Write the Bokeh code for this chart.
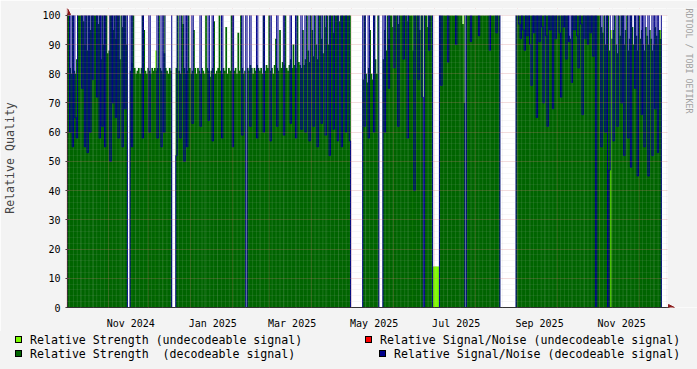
import numpy as np
import pandas as pd
from math import pi
from bokeh.plotting import figure
from bokeh.layouts import column
from bokeh.models import (Range1d, FixedTicker, Label, Arrow, NormalHead, BoxAnnotation,
                          ColumnDataSource, Div)
from bokeh.embed import file_html
from bokeh.resources import INLINE

nan = float("nan")

# ---------------- data: one value per day, starting 2024-10-02 ----------------
first_day = "2024-10-02"

strength_decodeable = [
    # 2024-10-02 .. 2024-11-14
    100,82,80,100,81,80,85,100, 100,100,100,98, 90,100,88,100,95, 100,100,100,100,100,97,
    100,85,100,90,100, 100,87,88,100,100,95, 100,92,100,100,85,100,96,100,100,90,
    nan,nan,
    # 2024-11-17 .. 2024-12-17
    81,84,100,82,80,81,82,80,82,100,95,81,80,82,81,80,82,81,82,81,82,100,82,81,80,87,82,81,80,82,81,
    nan,nan,nan,
    # 2024-12-21 .. 2025-02-10
    82,100,81,80,100,97,82,80,81,100, 82,80,81,95,82,80,82,81,80,82, 81,80,100,82,81,79,81,82,98,80,
    81,82,100,81,80,82,81,96,80,82, 81,100,80,81,82,80,94,81,100,82, 80,81,
    nan,
    # 2025-02-12 .. 2025-03-26
    82,81,83,82,80,82,81,83,82,81, 82,80,100,81,83,82,100,81,82,80, 83,92,82,81,95,82,84,83,100,82,
    81,83,85,82,90,83,82,100,84,83, 82,95,83,
    # 2025-03-27 .. 2025-04-29
    85,100,88,84,100,95,86,100,90,85, 100,100,92,87,100,96,100,90,100,100, 100,94,100,100,100,98,100,100,100,100,
    100,100,100,100,
    nan,nan,nan,nan,nan,nan,nan,nan,nan,
    # 2025-05-09 .. 2025-05-20
    78,100,80,77,82,95,80,78,100,85,80,100,
    nan,nan,nan,
    # 2025-05-24 .. 2025-06-22
    85,95,88,100,92,100,100,96,100,100, 100,97,100,100,100,100,100,100,98,100, 100,100,88,100,100,100,100,95,100,100,
    nan,
    100,100,96,100,100,100,
    nan,nan,nan,nan,nan,
    # 2025-07-05 .. 2025-07-23
    100,100,100,100,100,100,100,100,100,100,100,100,100,100,100,100,100,97,70,
    nan,
    # 2025-07-25 .. 2025-08-18
    100,100,100,100,100,100,100,100,100,100, 100,100,100,100,100,100,100,100,100,100, 100,100,100,100,100,
    nan,nan,nan,nan,nan,nan,nan,nan,nan,nan,nan,nan,
    # 2025-08-31
    100,
    # Sep 2025
    100,100,100,100,100,100,100,100,100,100, 100,100,100,100,100,100,100,100,100,100, 100,100,100,100,100,100,100,100,100,100,
    # Oct 2025
    100,100,100,100,100,100,100,100,93,92, 100,100,100,100,100,100,100,100,100,100, 100,100,100,100,100,100,100,100,100,100, 100,
    # Nov 2025
    100,96,94,100,90,100,100,88,nan,92, 95,100,90,87,100,93,100,100,90,95, 100,88,92,100,96,90,100,93,88,100,
    # Dec 2025
    92,95,90,88,96,93,90,95,92,88,90,96,93,90,95,92,nan,
]

# values above 100 lie off the top of the chart (clipped, as in the original)
snr_decodeable = [
    # 2024-10-02 .. 2024-11-14
    120,60,120,55,120,65,58,120, 120,120,75,120, 55,120,53,120,60, 120,78,120,120,72,120,
    58,120,62,120,55, 120,120,120,50,120,70, 120,65,120,58,120,120,55,120,68,120,
    0,0,
    # 2024-11-17 .. 2024-12-17
    120,55,120,120,120,120,120,120,120,58,120,120,120,120,60,120,120,120,120,120,58,120,120,55,120,60,120,120,120,120,120,
    0,0,0,
    # 2024-12-21 .. 2025-02-10
    52,120,120,58,120,120,50,120,55,120, 120,120,63,120,120,120,120,120,62,120, 120,120,120,120,64,120,120,57,120,120,
    120,120,120,120,58,120,120,120,120,120, 120,120,55,120,120,120,120,120,120,59, 120,120,
    0,
    # 2025-02-12 .. 2025-03-26
    120,120,62,120,120,120,120,58,120,120, 120,120,60,120,120,120,120,57,120,120, 120,120,62,120,120,120,120,59,120,120,
    120,120,63,120,120,120,58,120,120,120, 61,120,120,
    # 2025-03-27 .. 2025-04-29
    60,120,120,57,120,120,62,120,120,55, 120,120,63,120,120,59,120,120,52,120, 120,61,120,120,57,120,120,55,120,120,
    60,120,120,57,
    0,0,0,0,0,0,0,0,0,
    # 2025-05-09 .. 2025-05-20
    120,62,120,120,58,120,120,120,60,120,120,120,
    0,0,0,
    # 2025-05-24 .. 2025-06-22
    120,60,120,120,75,120,120,120,82,120, 120,62,120,120,120,85,120,120,58,120, 120,120,120,40,120,120,78,120,120,72,
    0,
    120,120,120,88,120,120,
    0,0,0,0,0,
    # 2025-07-05 .. 2025-07-23
    120,76,120,120,120,120,84,120,120,120,120,120,90,120,120,120,120,120,120,
    0,
    # 2025-07-25 .. 2025-08-18
    120,120,120,91,120,120,120,120,120,93, 120,120,120,120,120,120,120,88,120,120, 120,120,94,120,120,
    0,0,0,0,0,0,0,0,0,0,0,0,
    # 2025-08-31
    120,
    # Sep 2025
    120,97,92,120,95,88,120,93,120,90, 76,120,94,120,65,120,91,120,96,70, 120,93,62,120,95,120,68,120,92,120,
    # Oct 2025
    120,94,72,120,96,120,85,120,91,120, 77,120,95,120,93,82,120,97,66,120, 92,120,90,120,94,120,86,120,0,120, 120,
    # Nov 2025
    120,55,120,120,60,120,0,47,120,120, 57,120,120,62,120,120,70,120,52,120, 120,58,120,48,120,120,75,120,45,120,
    # Dec 2025
    120,66,120,55,120,120,45,120,120,52,120,68,120,53,120,120,0,
]

# Relative Strength (undecodeable signal): only the days where it shows
undecodeable_days = ["2024-11-18", "2024-12-06", "2024-12-12", "2025-06-15",
                     "2025-06-30", "2025-07-01", "2025-07-02", "2025-07-03", "2025-07-04",
                     "2025-07-23", "2025-11-09", "2025-12-16"]
strength_undecodeable = [100, 88, 100, 100, 14, 14, 14, 14, 14, 100, 95, 95]

axis_months = ["2024-11-01", "2025-01-01", "2025-03-01", "2025-05-01",
               "2025-07-01", "2025-09-01", "2025-11-01"]
axis_labels = ["Nov 2024", "Jan 2025", "Mar 2025", "May 2025",
               "Jul 2025", "Sep 2025", "Nov 2025"]
y_ticks = [0, 10, 20, 30, 40, 50, 60, 70, 80, 90, 100]

legend_labels = ["Relative Strength (undecodeable signal)",
                 "Relative Strength  (decodeable signal)",
                 "Relative Signal/Noise (undecodeable signal)",
                 "Relative Signal/Noise (decodeable signal)"]

assert len(strength_decodeable) == len(snr_decodeable)

# ---------------- styles ----------------
LIGHT_GREEN = "#7cfc00"
DARK_GREEN = "#006400"
RED = "#ff0000"
BLUE = "#00008b"
BACK = "#f3f3f3"
ARROW = "#8b1a1a"
AXIS = "#333333"
FONT = "DejaVu Sans Mono"
MS_DAY = 86400000
PX_PER_DAY = 1.345

days = pd.date_range(first_day, periods=len(strength_decodeable), freq="D") + pd.Timedelta(hours=12)
snr = np.array(snr_decodeable, dtype=float)
src = ColumnDataSource(dict(x=days,
                            top=np.array(strength_decodeable, dtype=float),
                            snr=np.where(snr > 100, 101.0, snr)))   # off-scale -> just above the top
und_src = ColumnDataSource(dict(x=pd.to_datetime(undecodeable_days) + pd.Timedelta(hours=12),
                                top=strength_undecodeable))

# chart area: 600 px wide, 300 px high; the frame reaches further (to the canvas edge on the
# right, 7 px above the top) so that arrows and the watermark can be drawn there
x_start = pd.Timestamp(first_day) - pd.Timedelta(hours=12)
x_data_end = x_start + pd.Timedelta(days=600 / PX_PER_DAY)
x_frame_end = x_start + pd.Timedelta(days=630 / PX_PER_DAY)
y_frame_top = 100 * 307 / 300

def ms(t):
    return float(t.value // 10**6)

p = figure(width=697, height=331, x_axis_type="datetime",
           x_range=Range1d(x_start, x_frame_end), y_range=Range1d(0, y_frame_top),
           output_backend="svg", toolbar_location=None,
           min_border_left=67, min_border_right=0, min_border_top=8, min_border_bottom=16)
p.background_fill_color = "white"
p.border_fill_color = BACK
p.outline_line_color = None

bar_w = MS_DAY * 1.3
p.vbar(x="x", top="top", bottom=0, width=bar_w, source=und_src,
       fill_color=LIGHT_GREEN, line_color=None)
p.vbar(x="x", top="top", bottom=0, width=bar_w, source=src,
       fill_color=DARK_GREEN, line_color=None)
p.step(x="x", y="snr", mode="center", source=src, line_color=BLUE, line_width=1)

# ---------------- axes ----------------
label_pos = [int((pd.Timestamp(m) + pd.Timedelta(days=16.5)).value // 10**6) for m in axis_months]
p.xaxis.ticker = FixedTicker(ticks=label_pos)
p.xaxis.major_label_overrides = {t: l for t, l in zip(label_pos, axis_labels)}
p.xaxis.minor_tick_line_color = None
p.xaxis.major_tick_line_color = None
p.xaxis.major_label_standoff = 4
p.xaxis.bounds = (ms(x_start), ms(x_start + pd.Timedelta(days=602 / PX_PER_DAY)))

p.yaxis.ticker = FixedTicker(ticks=y_ticks)
p.yaxis.major_tick_in = 2
p.yaxis.major_tick_out = 2
p.yaxis.minor_tick_line_color = None
p.yaxis.major_tick_line_color = AXIS
p.yaxis.major_label_standoff = 5
p.yaxis.bounds = (0, 100 * 302 / 300)
p.yaxis.axis_label = "Relative Quality"
p.yaxis.axis_label_text_font = FONT
p.yaxis.axis_label_text_font_size = "11.6px"
p.yaxis.axis_label_text_font_style = "normal"
p.yaxis.axis_label_standoff = 22

for ax in (p.xaxis[0], p.yaxis[0]):
    ax.major_label_text_font = FONT
    ax.major_label_text_font_size = "10px"
    ax.major_label_text_color = "black"
    ax.axis_line_color = AXIS

# ---------------- grid (drawn over the data) ----------------
months = pd.date_range("2024-10-01", "2025-12-31", freq="MS")
month_ms = [ms(m) for m in months]
minor_ms = [ms(m + pd.Timedelta(days=k)) for m in months for k in (10, 20)]
p.xgrid.ticker = FixedTicker(ticks=month_ms, minor_ticks=minor_ms)
p.ygrid.ticker = FixedTicker(ticks=y_ticks, minor_ticks=list(range(0, 101, 2)))
for g in (p.xgrid[0], p.ygrid[0]):
    g.level = "overlay"
    g.grid_line_color = "#e06060"
    g.grid_line_alpha = 0.35
    g.grid_line_dash = "1 1"
    g.minor_grid_line_color = "#a8a8a8"
    g.minor_grid_line_alpha = 0.2
    g.minor_grid_line_dash = "1 1"

# canvas colour outside the 600x300 chart area
p.add_layout(BoxAnnotation(bottom=100, fill_color=BACK, fill_alpha=1, line_color=None, level="overlay"))
p.add_layout(BoxAnnotation(left=ms(x_data_end), fill_color=BACK, fill_alpha=1, line_color=None,
                           level="overlay"))

# ---------------- axis arrows ----------------
head = dict(size=6, fill_color=ARROW, line_color=ARROW)
p.add_layout(Arrow(end=NormalHead(**head), x_start=ms(x_start), y_start=100, x_end=ms(x_start),
                   y_end=y_frame_top, line_alpha=0, level="overlay"))
p.add_layout(Arrow(end=NormalHead(**head), x_start=ms(x_data_end), y_start=0,
                   x_end=ms(x_start + pd.Timedelta(days=607 / PX_PER_DAY)), y_end=0,
                   line_alpha=0, level="overlay"))

# ---------------- watermark ----------------
p.add_layout(Label(x=621, y=304, x_units="screen", y_units="screen",
                   text="RRDTOOL / TOBI OETIKER", angle=-pi / 2,
                   text_font=FONT, text_font_size="8.3px", text_color="#a0a0a0",
                   text_align="left", text_baseline="middle", level="overlay"))

# ---------------- legend strip under the chart ----------------
colors = [LIGHT_GREEN, DARK_GREEN, RED, BLUE]
# (swatch left, text left, row top) for each legend entry
spots = [(15, 30, 0), (15, 30, 14), (365, 380, 0), (379, 394, 14)]
parts = []
for lab, col, (sx, tx, ry) in zip(legend_labels, colors, spots):
    parts.append(f'<span style="position:absolute;left:{sx}px;top:{ry + 5}px;width:7px;height:7px;'
                 f'background:{col};border:1px solid #000;"></span>')
    parts.append(f'<span style="position:absolute;left:{tx}px;top:{ry + 3}px;line-height:12px;'
                 f'white-space:pre;">{lab}</span>')
legend_div = Div(text=(f'<div style="position:relative;width:697px;height:38px;background:{BACK};'
                       f'font-family:\'{FONT}\';font-size:11.6px;color:#000;">' + "".join(parts) + "</div>"),
                 width=697, height=38, margin=0)

layout = column(p, legend_div, spacing=0)
open("out.html", "w").write(file_html(layout, INLINE))
